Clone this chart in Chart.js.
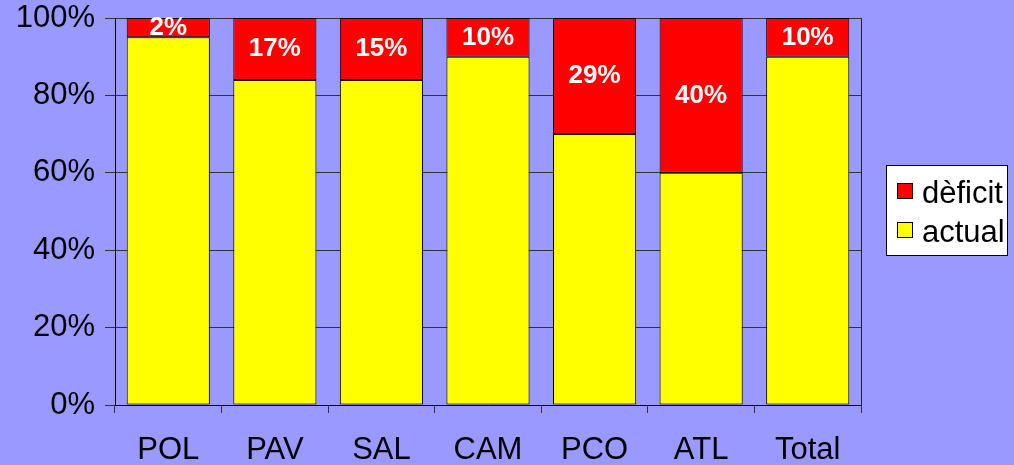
<!DOCTYPE html>
<html>
<head>
<meta charset="utf-8">
<script src="https://cdn.jsdelivr.net/npm/chart.js@4/dist/chart.umd.min.js"></script>
<style>
  body { margin: 0; background: #9999ff; }
  canvas { display: block; }
</style>
</head>
<body>
<canvas id="myChart" width="1014" height="465"></canvas>
<script>
const categories = ["POL", "PAV", "SAL", "CAM", "PCO", "ATL", "Total"];
const actual = [95, 84, 84, 90, 70, 60, 90];
const deficit = [5, 16, 16, 10, 30, 40, 10];
const deficitLabels = ["2%", "17%", "15%", "10%", "29%", "40%", "10%"];
const yTicks = [0, 20, 40, 60, 80, 100];

const font = "'Liberation Sans', Arial, sans-serif";

// white labels in the middle of the red segments
const segmentLabels = {
  id: "segmentLabels",
  afterDatasetsDraw(chart) {
    const ctx = chart.ctx;
    const meta = chart.getDatasetMeta(1);
    ctx.save();
    ctx.fillStyle = "#fff";
    ctx.font = "bold 26px " + font;
    ctx.textAlign = "center";
    ctx.textBaseline = "middle";
    meta.data.forEach((bar, i) => {
      const y = (bar.y + bar.base) / 2;
      ctx.fillText(deficitLabels[i], bar.x, y);
    });
    ctx.restore();
  }
};

// right edge of plot + boxed legend
const frameAndLegend = {
  id: "frameAndLegend",
  afterDraw(chart) {
    const ctx = chart.ctx;
    const a = chart.chartArea;
    ctx.save();
    ctx.strokeStyle = "#222";
    ctx.lineWidth = 1;
    ctx.beginPath();
    ctx.moveTo(Math.round(a.right) + 0.5, a.top);
    ctx.lineTo(Math.round(a.right) + 0.5, a.bottom);
    ctx.stroke();

    ctx.fillStyle = "#fff";
    ctx.fillRect(886, 165, 121, 90);
    ctx.strokeStyle = "#000";
    ctx.strokeRect(886.5, 165.5, 121, 90);

    const items = [chart.data.datasets[1], chart.data.datasets[0]];
    ctx.font = "31px " + font;
    ctx.textAlign = "left";
    ctx.textBaseline = "alphabetic";
    items.forEach((ds, i) => {
      const y = 183 + i * 39;
      ctx.fillStyle = ds.backgroundColor;
      ctx.fillRect(897, y, 16, 16);
      ctx.strokeStyle = "#000";
      ctx.strokeRect(897.5, y + 0.5, 15, 15);
      ctx.fillStyle = "#000";
      ctx.fillText(ds.label, 922, y + 20);
    });
    ctx.restore();
  }
};

const ctx = document.getElementById("myChart").getContext("2d");

new Chart(ctx, {
  type: "bar",
  data: {
    labels: categories,
    datasets: [
      {
        label: "actual",
        data: actual,
        backgroundColor: "#ffff00",
        borderColor: "#000",
        borderWidth: 1,
        borderSkipped: false,
        barPercentage: 0.78,
        categoryPercentage: 1
      },
      {
        label: "dèficit",
        data: deficit,
        backgroundColor: "#ff0000",
        borderColor: "#000",
        borderWidth: 1,
        borderSkipped: false,
        barPercentage: 0.78,
        categoryPercentage: 1
      }
    ]
  },
  options: {
    responsive: false,
    animation: false,
    layout: { padding: { top: 18, right: 153, left: 0, bottom: 0 } },
    plugins: {
      legend: { display: false },
      tooltip: { enabled: false }
    },
    scales: {
      x: {
        stacked: true,
        offset: true,
        grid: { display: true, drawOnChartArea: false, offset: true, tickLength: 8, color: "#333" },
        border: { display: true, color: "#000" },
        ticks: { color: "#000", font: { family: font, size: 31 }, padding: 19, maxRotation: 0 },
        afterFit(scale) { scale.height = 60; scale.paddingLeft = 0; scale.paddingRight = 0; }
      },
      y: {
        stacked: true,
        min: 0,
        max: 100,
        afterBuildTicks(scale) { scale.ticks = yTicks.map(v => ({ value: v })); },
        grid: { color: "#333", tickLength: 10 },
        border: { display: true, color: "#000" },
        ticks: {
          color: "#000",
          font: { family: font, size: 31 },
          padding: 10,
          callback: v => v + "%"
        },
        afterFit(scale) { scale.width = 115; scale.paddingTop = 0; scale.paddingBottom = 0; }
      }
    }
  },
  plugins: [segmentLabels, frameAndLegend]
});
</script>
</body>
</html>
